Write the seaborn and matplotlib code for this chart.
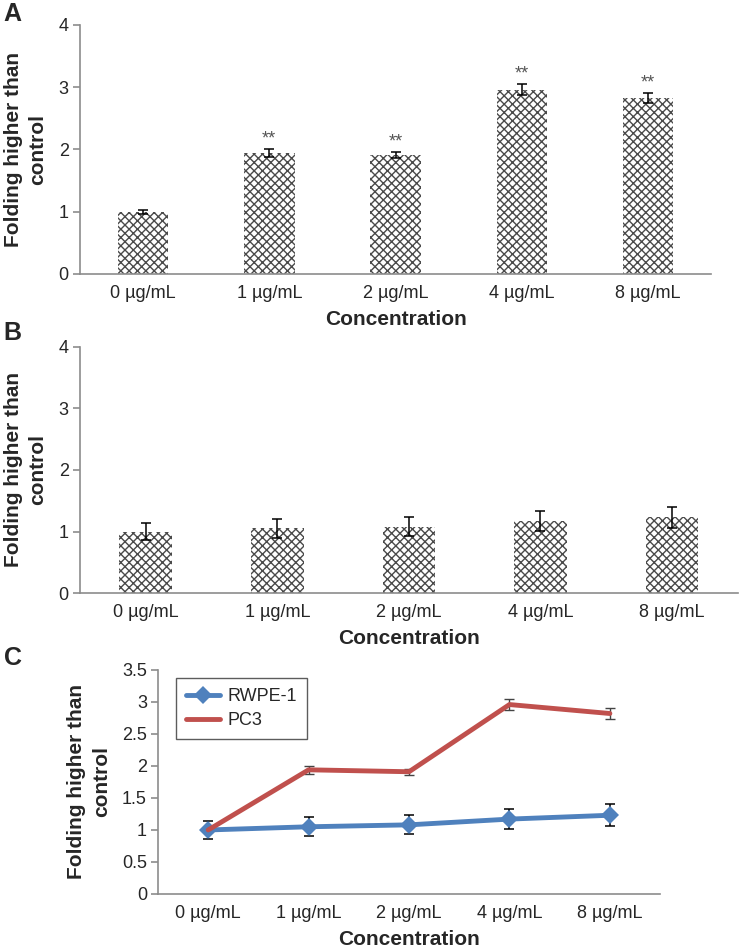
import numpy as np
import pandas as pd
import matplotlib
matplotlib.use("Agg")
import matplotlib.pyplot as plt
import seaborn as sns

# data
conc = ["0 µg/mL", "1 µg/mL", "2 µg/mL", "4 µg/mL", "8 µg/mL"]
pc3_mean = [1.00, 1.94, 1.91, 2.96, 2.82]
pc3_err = [0.03, 0.06, 0.05, 0.09, 0.08]
rwpe_mean = [1.00, 1.05, 1.08, 1.17, 1.23]
rwpe_err = [0.14, 0.15, 0.15, 0.16, 0.17]
stars = ["", "**", "**", "**", "**"]

sns.set_theme(style="white")
plt.rcParams["font.family"] = ["Liberation Sans", "DejaVu Sans"]
plt.rcParams["hatch.linewidth"] = 1.0

fig = plt.figure(figsize=(7.4, 9.49), dpi=100)
ax_a = fig.add_axes([0.108, 0.7113, 0.853, 0.2624])
ax_b = fig.add_axes([0.108, 0.3751, 0.889, 0.2593])
ax_c = fig.add_axes([0.2135, 0.058, 0.6785, 0.236])

axis_grey = "#8c8c8c"


def style_axis(ax, ymax, ystep):
    for s in ["top", "right"]:
        ax.spines[s].set_visible(False)
    for s in ["left", "bottom"]:
        ax.spines[s].set_color(axis_grey)
        ax.spines[s].set_linewidth(1.2)
    ax.set_xlim(-0.5, 4.5)
    ax.set_ylim(0, ymax)
    ax.set_yticks(np.arange(0, ymax + 0.01, ystep))
    ax.yaxis.set_major_formatter(matplotlib.ticker.FormatStrFormatter("%g"))
    ax.set_xticks(np.arange(-0.5, 5, 1), minor=True)
    ax.tick_params(axis="x", which="major", length=0, pad=8, labelsize=13)
    ax.tick_params(axis="x", which="minor", length=6, width=1.2, color=axis_grey, direction="out")
    ax.tick_params(axis="y", which="major", length=5, width=1.2, color=axis_grey,
                   direction="out", left=True, labelsize=13, pad=3)
    ax.set_xlabel("Concentration", fontsize=15, fontweight="bold", labelpad=6)
    ax.set_ylabel("Folding higher than\ncontrol", fontsize=15, fontweight="bold",
                  linespacing=1.4, labelpad=8)


def hatched_bars(ax, means, errs):
    df = pd.DataFrame({"conc": conc, "val": means})
    sns.barplot(data=df, x="conc", y="val", ax=ax, color="white", width=0.4,
                edgecolor="#4a4a4a", linewidth=0, hatch="xxxx")
    ax.errorbar(np.arange(5), means, yerr=errs, fmt="none", ecolor="black",
                elinewidth=1.1, capsize=3.5, capthick=1.1)


# panel A
hatched_bars(ax_a, pc3_mean, pc3_err)
style_axis(ax_a, 4, 1)
for i, s in enumerate(stars):
    if s:
        ax_a.text(i, pc3_mean[i] + pc3_err[i] + 0.03, s, ha="center", va="bottom",
                  fontsize=13, color="#555555")

# panel B
hatched_bars(ax_b, rwpe_mean, rwpe_err)
style_axis(ax_b, 4, 1)

# panel C
blue = "#4F81BD"
red = "#C0504D"
rwpe_df = pd.DataFrame({"conc": conc, "val": rwpe_mean})
pc3_df = pd.DataFrame({"conc": conc, "val": pc3_mean})
ax_c.errorbar(np.arange(5), rwpe_mean, yerr=rwpe_err, fmt="none", ecolor="black",
              elinewidth=1.1, capsize=3.5, capthick=1.1, zorder=1)
ax_c.errorbar(np.arange(5), pc3_mean, yerr=pc3_err, fmt="none", ecolor="#444444",
              elinewidth=1.0, capsize=3.5, capthick=1.0, zorder=1)
sns.lineplot(data=rwpe_df, x="conc", y="val", color=blue, marker="D",
             markersize=9, markeredgewidth=0, linewidth=3.5, sort=False,
             label="RWPE-1", ax=ax_c)
sns.lineplot(data=pc3_df, x="conc", y="val", color=red, linewidth=3.5,
             sort=False, label="PC3", ax=ax_c)
style_axis(ax_c, 3.5, 0.5)
leg = ax_c.legend(loc="upper left", bbox_to_anchor=(0.036, 0.964), fontsize=13,
                  frameon=True, fancybox=False, handlelength=1.9, handletextpad=0.4,
                  borderpad=0.55, borderaxespad=0, labelspacing=0.4)
leg.get_frame().set_edgecolor("#333333")
leg.get_frame().set_linewidth(1.0)

# panel letters
for label, y in [("A", 0.985), ("B", 0.649), ("C", 0.307)]:
    fig.text(0.005, y, label, fontsize=18, fontweight="bold", ha="left", va="center")

fig.savefig("out.png", dpi=100)
